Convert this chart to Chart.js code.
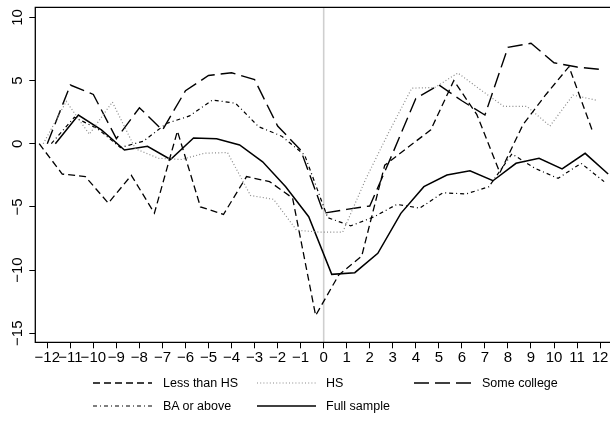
<!DOCTYPE html>
<html>
<head>
<meta charset="utf-8">
<script src="https://cdn.jsdelivr.net/npm/chart.js@4.4.1/dist/chart.umd.min.js"></script>
<style>
  html, body { margin: 0; padding: 0; background: #fff; overflow: hidden; }
  #wrap { position: relative; width: 610px; height: 423px; }
  #legend { position: absolute; left: 0; top: 0; width: 610px; height: 423px; pointer-events: none;
            font-family: "Liberation Sans", Arial, sans-serif; font-size: 12.5px; color: #000; }
  .lg-item { position: absolute; display: flex; align-items: center; white-space: nowrap; }
  .lg-item svg { display: block; }
</style>
</head>
<body>
<div id="wrap">
  <canvas id="chart" width="610" height="423"></canvas>
  <div id="legend"></div>
</div>
<script>
"use strict";

// ---- données ----
const eventTime = [-12,-11,-10,-9,-8,-7,-6,-5,-4,-3,-2,-1,0,1,2,3,4,5,6,7,8,9,10,11,12];
const xTicks = eventTime;
const yTicks = [-15, -10, -5, 0, 5, 10];

const lessThanHS  = [0, -2.4, -2.6, -4.7, -2.5, -5.5, 1.0, -5.0, -5.6, -2.6, -3.0, -4.3, -13.6, -10.4, -8.9, -1.7, -0.3, 1.1, 5.0, 2.3, -2.3, 1.5, 3.9, 6.1, 1.1];
const hsOnly      = [0, 3.35, 0.75, 3.3, -0.4, -1.15, -1.25, -0.75, -0.7, -4.1, -4.4, -6.85, -7.0, -7.0, -2.8, 0.9, 4.4, 4.45, 5.6, 4.25, 2.95, 2.95, 1.4, 3.85, 3.45];
const someCollege = [0, 4.65, 3.9, 0.4, 2.85, 1.08, 4.2, 5.4, 5.62, 5.07, 1.4, -0.5, -5.5, -5.2, -4.93, -0.74, 3.59, 4.65, 3.4, 2.27, 7.63, 7.95, 6.41, 6.07, 5.89];
const baOrAbove   = [0, 2.1, 1.2, -0.3, 0.2, 1.6, 2.2, 3.46, 3.2, 1.35, 0.6, -0.9, -5.85, -6.5, -5.8, -4.8, -5.1, -3.88, -3.98, -3.4, -0.8, -1.95, -2.74, -1.55, -3.0];
const fullSample  = [0, 2.27, 1.1, -0.5, -0.2, -1.25, 0.45, 0.4, -0.1, -1.43, -3.4, -5.78, -10.34, -10.21, -8.68, -5.51, -3.4, -2.48, -2.14, -2.93, -1.55, -1.16, -2.0, -0.76, -2.4];

// décalage horizontal de chaque série (pour éviter les chevauchements)
const xShift = { lhs: -0.35, hs: -0.175, sc: 0, ba: 0.175, full: 0.35 };
const EVENT_LINE = 0;

const X_MIN = -12.52, X_MAX = 12.43;
const Y_MIN = -15.72, Y_MAX = 10.8;

const FONT = "'Liberation Sans', Arial, Helvetica, sans-serif";
Chart.defaults.font.family = FONT;
Chart.defaults.color = "#000";

function pts(values, shift) {
    return eventTime.map((t, i) => ({ x: t + shift, y: values[i] }));
}

function minus(v) {
    return v < 0 ? "\u2212" + Math.abs(v) : String(v);
}

const series = [
    { label: "Less than HS", data: pts(lessThanHS, xShift.lhs),  color: "#000",    width: 1.3, dash: [7, 4],        row: 0, col: 0 },
    { label: "HS",           data: pts(hsOnly, xShift.hs),       color: "#8a8a8a", width: 1.2, dash: [1, 2.2],      row: 0, col: 1 },
    { label: "Some college", data: pts(someCollege, xShift.sc),  color: "#000",    width: 1.4, dash: [15, 6],       row: 0, col: 2 },
    { label: "BA or above",  data: pts(baOrAbove, xShift.ba),    color: "#000",    width: 1.2, dash: [4, 3, 1, 3],  row: 1, col: 0 },
    { label: "Full sample",  data: pts(fullSample, xShift.full), color: "#000",    width: 1.5, dash: [],            row: 1, col: 1 }
];

// cadre + ligne verticale à t = 0
const framePlugin = {
    id: "frame",
    beforeDatasetsDraw(chart) {
        const { ctx, chartArea: a, scales: { x } } = chart;
        const px = x.getPixelForValue(EVENT_LINE);
        ctx.save();
        ctx.strokeStyle = "#cfcfcf";
        ctx.lineWidth = 1.6;
        ctx.beginPath();
        ctx.moveTo(px, a.top);
        ctx.lineTo(px, a.bottom);
        ctx.stroke();
        ctx.restore();
    },
    afterDraw(chart) {
        const { ctx, chartArea: a } = chart;
        ctx.save();
        ctx.strokeStyle = "#000";
        ctx.lineWidth = 1.3;
        ctx.beginPath();
        ctx.moveTo(a.right + 5, a.top);
        ctx.lineTo(a.left, a.top);
        ctx.lineTo(a.left, a.bottom);
        ctx.lineTo(a.right + 5, a.bottom);
        ctx.stroke();
        ctx.restore();
    }
};

new Chart(document.getElementById("chart"), {
    type: "line",
    data: {
        datasets: series.map(s => ({
            label: s.label,
            data: s.data,
            borderColor: s.color,
            borderWidth: s.width,
            borderDash: s.dash,
            pointRadius: 0,
            tension: 0,
            fill: false
        }))
    },
    options: {
        responsive: false,
        animation: false,
        devicePixelRatio: 1,
        layout: { padding: { top: 7.3, left: 0, right: 0, bottom: 50.7 } },
        plugins: { legend: { display: false }, tooltip: { enabled: false } },
        scales: {
            x: {
                type: "linear",
                min: X_MIN, max: X_MAX,
                afterBuildTicks: s => { s.ticks = xTicks.map(v => ({ value: v })); },
                afterFit: s => { s.height = 30; s.paddingLeft = 0; s.paddingRight = 0; },
                border: { display: false },
                grid: { drawOnChartArea: false, drawTicks: true, tickLength: 6, color: "#000", lineWidth: 1 },
                ticks: {
                    autoSkip: false, maxRotation: 0, minRotation: 0, padding: 1,
                    font: { size: 15 }, color: "#000",
                    callback: v => minus(v)
                }
            },
            y: {
                type: "linear",
                min: Y_MIN, max: Y_MAX,
                afterBuildTicks: s => { s.ticks = yTicks.map(v => ({ value: v })); },
                afterFit: s => { s.width = 35.3; s.paddingTop = 0; s.paddingBottom = 0; },
                border: { display: false },
                grid: { drawOnChartArea: false, drawTicks: true, tickLength: 6, color: "#000", lineWidth: 1 },
                ticks: {
                    autoSkip: false, minRotation: 90, maxRotation: 90, padding: -1.5,
                    crossAlign: "center",
                    font: { size: 15 }, color: "#000",
                    callback: v => minus(v)
                }
            }
        }
    },
    plugins: [framePlugin]
});

// ---- légende (texte HTML) ----
const legendCols = [
    { sx: 93,  tx: 163 },
    { sx: 257, tx: 326 },
    { sx: 414, tx: 482 }
];
const legendRows = [383, 406];
const SAMPLE_W = 59;

const legendEl = document.getElementById("legend");
series.forEach(s => {
    const col = legendCols[s.col];
    const cy = legendRows[s.row];
    const sample = document.createElement("div");
    sample.className = "lg-item";
    sample.style.left = col.sx + "px";
    sample.style.top = (cy - 4) + "px";
    sample.innerHTML = `<svg width="${SAMPLE_W}" height="8"><line x1="0" y1="4" x2="${SAMPLE_W}" y2="4"
        stroke="${s.color}" stroke-width="${s.width}" stroke-dasharray="${s.dash.length ? s.dash.join(' ') : 'none'}"/></svg>`;
    legendEl.appendChild(sample);

    const txt = document.createElement("div");
    txt.className = "lg-item";
    txt.style.left = col.tx + "px";
    txt.style.top = (cy - 8) + "px";
    txt.style.lineHeight = "16px";
    txt.textContent = s.label;
    legendEl.appendChild(txt);
});
</script>
</body>
</html>
